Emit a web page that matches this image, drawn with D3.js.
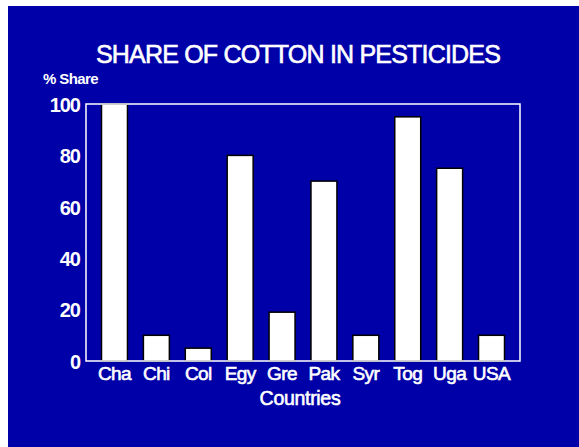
<!DOCTYPE html>
<html><head><meta charset="utf-8">
<script src="https://cdn.jsdelivr.net/npm/d3@7"></script>
<style>html,body{margin:0;padding:0;background:#fff;}svg{display:block;}text{font-family:"Liberation Sans",Arial,sans-serif;fill:#fff;}</style>
</head><body><svg id="c" width="579" height="447"></svg>
<script>
const categories = ["Cha","Chi","Col","Egy","Gre","Pak","Syr","Tog","Uga","USA"];
const shares = [100,10,5,80,19,70,10,95,75,10];
const yTicks = [0,20,40,60,80,100];
const title = "SHARE OF COTTON IN PESTICIDES";
const yLabel = "% Share";
const xLabel = "Countries";

(function(){
const svg = d3.select("#c");
svg.append("rect").attr("x",8).attr("y",6).attr("width",571).attr("height",441).attr("fill","#0000a8");

const pL=86, pR=520, pT=104, pB=361;
const x = d3.scaleBand().domain(categories).range([pL,pR]).paddingInner(0.38).paddingOuter(0.37);
const y = d3.scaleLinear().domain([0,100]).range([pB,pT]);

svg.append("g").selectAll("rect").data(categories).join("rect")
  .attr("x",d=>x(d)).attr("width",x.bandwidth())
  .attr("y",(d,i)=>y(shares[i])).attr("height",(d,i)=>y(0)-y(shares[i]))
  .attr("fill","#fff").attr("stroke","#000").attr("stroke-width",1.5);

svg.append("rect").attr("x",pL).attr("y",pT).attr("width",pR-pL).attr("height",pB-pT)
  .attr("fill","none").attr("stroke","#fff").attr("stroke-width",1.5);

const ya = svg.append("g").attr("transform",`translate(${pL},0)`)
  .call(d3.axisLeft(y).tickValues(yTicks).tickSize(0).tickPadding(6));
ya.select(".domain").remove();
ya.selectAll("text").attr("font-size",20).attr("font-weight","bold").attr("fill","#fff")
  .attr("font-family","Liberation Sans, Arial, sans-serif").attr("dy","0.36em").attr("letter-spacing","-1");

const xa = svg.append("g").attr("transform",`translate(0,${pB})`)
  .call(d3.axisBottom(x).tickSize(0).tickPadding(6));
xa.select(".domain").remove();
xa.selectAll("text").attr("font-size",19).attr("fill","#fff").attr("stroke","#fff").attr("stroke-width",0.6)
  .attr("font-family","Liberation Sans, Arial, sans-serif").attr("letter-spacing","-0.6");

svg.append("text").attr("x",298).attr("y",63).attr("text-anchor","middle")
  .attr("font-size",25).attr("letter-spacing","-0.8").attr("stroke","#fff").attr("stroke-width",0.6).text(title);
svg.append("text").attr("x",43).attr("y",84).attr("font-size",15).attr("font-weight","bold")
  .attr("letter-spacing","-0.6").text(yLabel);
svg.append("text").attr("x",300).attr("y",405).attr("text-anchor","middle")
  .attr("font-size",19.5).attr("letter-spacing","-0.3").attr("stroke","#fff").attr("stroke-width",0.6).text(xLabel);
})();
</script></body></html>
